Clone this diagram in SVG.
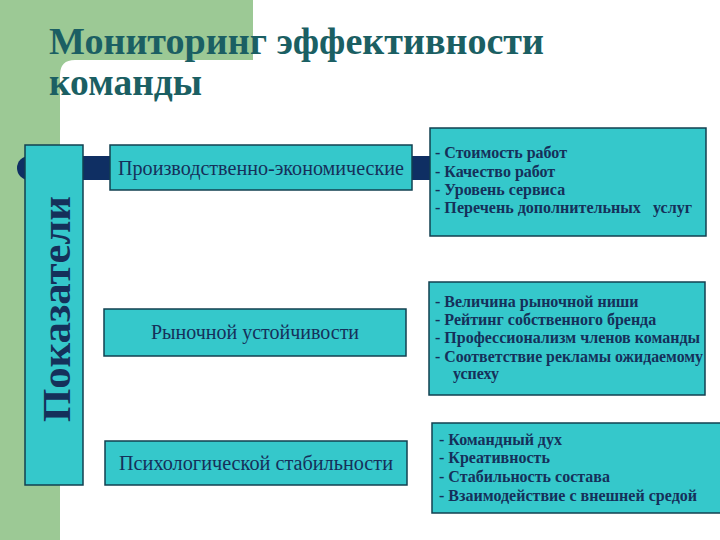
<svg xmlns="http://www.w3.org/2000/svg" width="720" height="540" viewBox="0 0 720 540">
<style>
.box{fill:#35c8cb;stroke:#124050;stroke-width:1.5}
.lbl{font-family:"Liberation Serif","Times New Roman",serif;font-size:20px;fill:#15305a}
.lst{font-family:"Liberation Serif","Times New Roman",serif;font-size:16px;font-weight:bold;fill:#15305a}
.ttl{font-family:"Liberation Serif","Times New Roman",serif;font-size:37px;font-weight:bold;fill:#1b5f63}
</style>
<rect width="720" height="540" fill="#ffffff"/>
<g id="background">
<path d="M0 0H253V60H75Q60 60 60 75V540H0Z" fill="#9cc995"/>
</g>
<g id="title">
<text class="ttl" x="49" y="54" textLength="495" lengthAdjust="spacingAndGlyphs">Мониторинг эффективности</text>
<text class="ttl" x="49" y="95" textLength="153" lengthAdjust="spacingAndGlyphs">команды</text>
</g>
<g id="connectors">
<circle cx="29" cy="168" r="12" fill="#0f2f63"/>
<rect x="29" y="156" width="402" height="24" fill="#0f2f63"/>
</g>
<g id="pokazateli">
<rect class="box" x="25" y="145" width="58" height="340"/>
<text transform="translate(70 422) rotate(-90)" font-family="'Liberation Serif','Times New Roman',serif" font-size="40" font-weight="bold" fill="#15305a" textLength="226" lengthAdjust="spacingAndGlyphs">Показатели</text>
</g>
<g id="box-prod">
<rect class="box" x="110" y="145" width="302" height="45"/>
<text class="lbl" x="261" y="175" text-anchor="middle" textLength="286" lengthAdjust="spacingAndGlyphs">Производственно-экономические</text>
</g>
<g id="box-market">
<rect class="box" x="104" y="309" width="302" height="47"/>
<text class="lbl" x="255" y="339" text-anchor="middle">Рыночной устойчивости</text>
</g>
<g id="box-psych">
<rect class="box" x="105" y="441" width="302" height="44"/>
<text class="lbl" x="256" y="470" text-anchor="middle" textLength="274" lengthAdjust="spacingAndGlyphs">Психологической стабильности</text>
</g>
<g id="list-prod">
<rect class="box" x="430" y="128" width="276" height="108"/>
<text class="lst" x="435" y="158">- Стоимость работ</text>
<text class="lst" x="435" y="177">- Качество работ</text>
<text class="lst" x="435" y="195">- Уровень сервиса</text>
<text class="lst" x="435" y="213" xml:space="preserve" textLength="257" lengthAdjust="spacingAndGlyphs">- Перечень дополнительных   услуг</text>
</g>
<g id="list-market">
<rect class="box" x="429" y="282" width="276" height="113"/>
<text class="lst" x="435" y="307">- Величина рыночной ниши</text>
<text class="lst" x="435" y="325">- Рейтинг собственного бренда</text>
<text class="lst" x="435" y="343" textLength="265" lengthAdjust="spacingAndGlyphs">- Профессионализм членов команды</text>
<text class="lst" x="435" y="362" textLength="268" lengthAdjust="spacingAndGlyphs">- Соответствие рекламы ожидаемому</text>
<text class="lst" x="453" y="379">успеху</text>
</g>
<g id="list-psych">
<rect class="box" x="432" y="423" width="296" height="90"/>
<text class="lst" x="439" y="445">- Командный дух</text>
<text class="lst" x="439" y="463">- Креативность</text>
<text class="lst" x="439" y="482">- Стабильность состава</text>
<text class="lst" x="439" y="501" textLength="258" lengthAdjust="spacingAndGlyphs">- Взаимодействие с внешней средой</text>
</g>
</svg>
